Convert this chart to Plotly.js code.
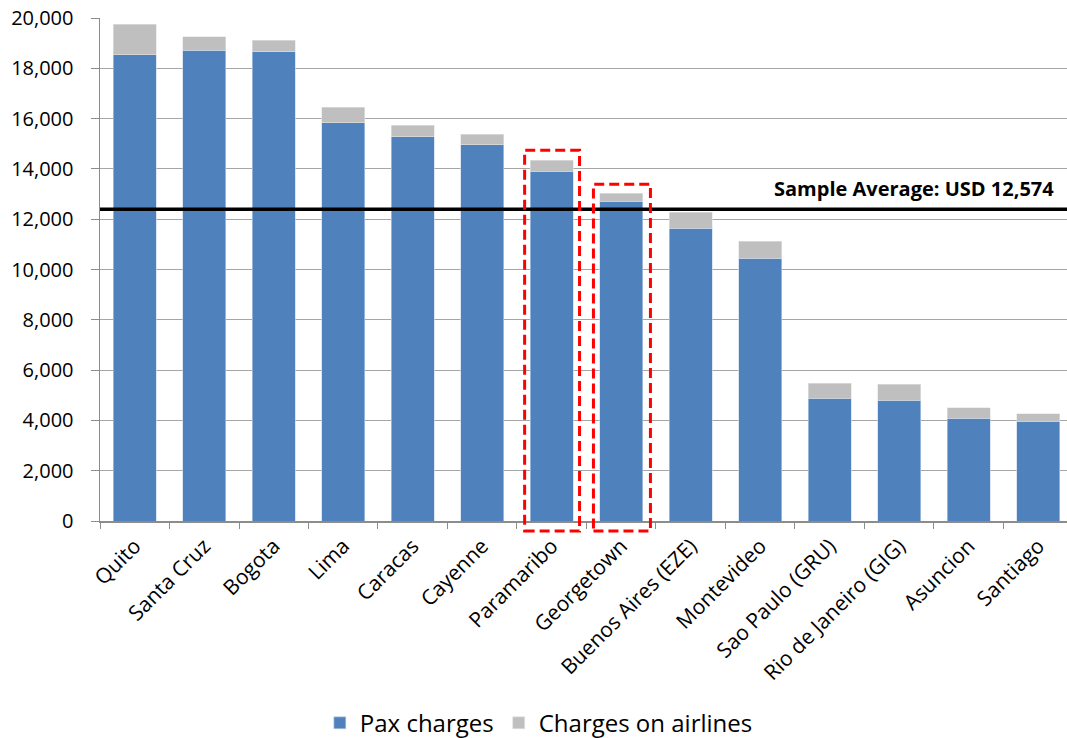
<!DOCTYPE html>
<html>
<head>
<meta charset="utf-8">
<script src="https://cdn.plot.ly/plotly-3.0.1.min.js"></script>
<style>html,body{margin:0;padding:0;background:#fff;}#chart{width:1067px;height:738px;}</style>
</head>
<body>
<div id="chart"></div>
<script>
// ---- data ----
const cities = ["Quito", "Santa Cruz", "Bogota", "Lima", "Caracas", "Cayenne", "Paramaribo", "Georgetown", "Buenos Aires (EZE)", "Montevideo", "Sao Paulo (GRU)", "Rio de Janeiro (GIG)", "Asuncion", "Santiago"];
const paxCharges = [18530, 18720, 18660, 15830, 15270, 14970, 13910, 12710, 11650, 10450, 4880, 4810, 4080, 3960];
const airlineCharges = [1220, 530, 450, 630, 470, 400, 440, 330, 620, 670, 590, 620, 430, 300];
const seriesNames = ["Pax charges", "Charges on airlines"];
const averageLevel = 12400;
const averageLabel = "Sample Average: USD 12,574";
const highlighted = ["Paramaribo", "Georgetown"];
const highlightTop = [14740, 13390];

// ---- layout constants ----
const yMax = 20000;
const FONT = "Open Sans, Liberation Sans, sans-serif";

const traces = [
  {
    type: "bar", name: seriesNames[0], x: cities, y: paxCharges,
    marker: {color: "#4F81BD", line: {color: "#C6D5EA", width: 0.6}}
  },
  {
    type: "bar", name: seriesNames[1], x: cities, y: airlineCharges,
    marker: {color: "#BFBFBF", line: {color: "#E4E4E4", width: 0.6}}
  }
];

const shapes = [
  {type: "line", xref: "paper", yref: "y", x0: 0, x1: 1, y0: averageLevel, y1: averageLevel,
   line: {color: "#000000", width: 3.5}, layer: "above"}
];
const boxPad = [[-0.39, 0.40], [-0.40, 0.42]];
highlighted.forEach(function (c, i) {
  const idx = cities.indexOf(c);
  shapes.push({
    type: "rect", xref: "x", yref: "paper",
    x0: idx + boxPad[i][0], x1: idx + boxPad[i][1],
    y0: -400 / yMax, y1: highlightTop[i] / yMax,
    line: {color: "#FF0000", width: 3, dash: "10px,5px"}, fillcolor: "rgba(0,0,0,0)", layer: "above"
  });
});

const layout = {
  width: 1067, height: 738,
  margin: {l: 100, r: 0, t: 18, b: 217},
  paper_bgcolor: "#ffffff", plot_bgcolor: "#ffffff",
  barmode: "stack", bargap: 0.38,
  font: {family: FONT, color: "#000000", size: 20},
  showlegend: true,
  legend: {
    orientation: "h", xref: "container", yref: "container",
    x: 0.505, xanchor: "center", y: 0.02, yanchor: "middle",
    font: {family: FONT, size: 24, color: "#000000"},
    traceorder: "normal", itemwidth: 30
  },
  xaxis: {
    type: "category", range: [-0.5, 13.414],
    tickangle: -45, tickfont: {family: FONT, size: 21},
    ticks: "outside", tickson: "boundaries", ticklen: 6, tickcolor: "#8C8C8C",
    showline: true, linecolor: "#8C8C8C", linewidth: 1.5,
    showgrid: false, fixedrange: true, ticklabelstandoff: 3
  },
  yaxis: {
    range: [0, yMax], dtick: 2000, tickformat: ",",
    tickfont: {family: FONT, size: 20},
    ticks: "outside", ticklen: 8, tickcolor: "#8C8C8C",
    showline: true, linecolor: "#8C8C8C", linewidth: 1.5,
    showgrid: true, gridcolor: "#A6A6A6", gridwidth: 1,
    zeroline: false, ticklabelstandoff: 13, fixedrange: true
  },
  shapes: shapes,
  annotations: [
    {xref: "paper", yref: "y", x: 0.9886, y: 13240, xanchor: "right", yanchor: "middle",
     text: "<b>" + averageLabel + "</b>", showarrow: false,
     font: {family: FONT, size: 20, color: "#000000"}}
  ]
};

Plotly.newPlot("chart", traces, layout, {displayModeBar: false, staticPlot: true});
</script>
</body>
</html>
